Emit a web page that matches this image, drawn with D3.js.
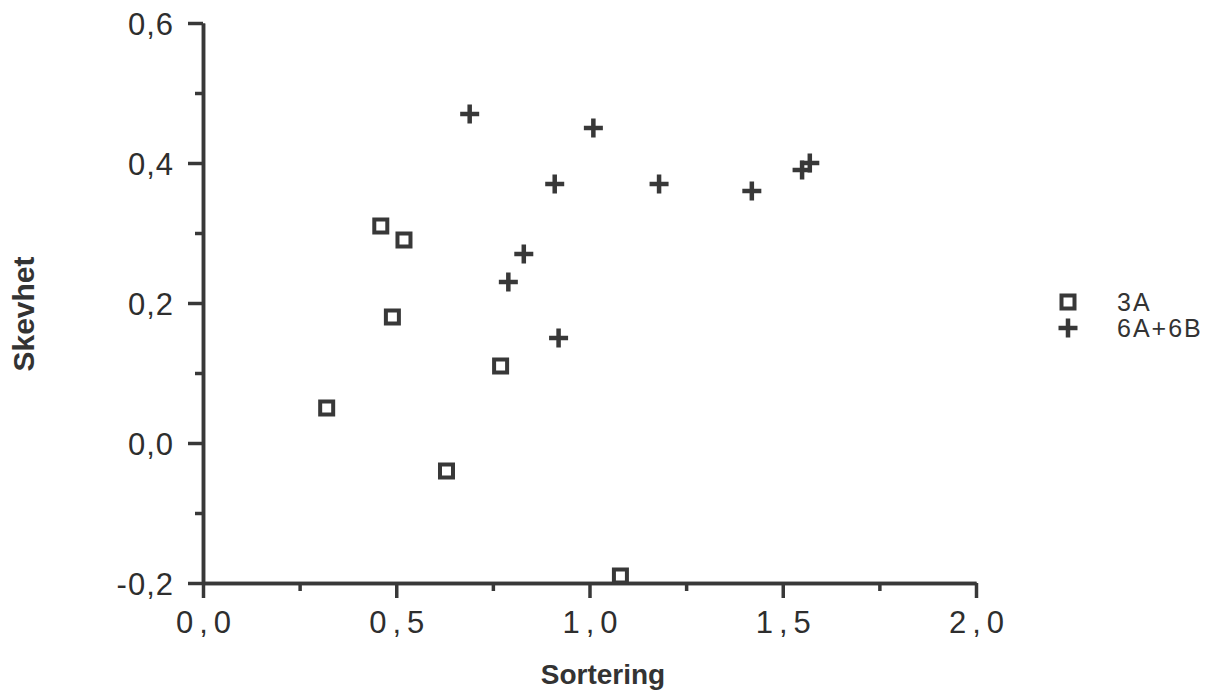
<!DOCTYPE html>
<html>
<head>
<meta charset="utf-8">
<script src="https://cdn.jsdelivr.net/npm/d3@7"></script>
<style>
  body { margin: 0; background: #fff; }
  text { font-family: "Liberation Sans", Arial, sans-serif; fill: #333; }
</style>
</head>
<body>
<div id="chart"></div>
<script>
// data
const series3A_x = [0.46, 0.52, 0.49, 0.32, 0.63, 0.77, 1.08]
const series3A_y = [0.31, 0.29, 0.18, 0.05, -0.04, 0.11, -0.19]
const series6_x = [0.69, 1.01, 0.91, 1.18, 1.42, 1.55, 1.57, 0.83, 0.79, 0.92]
const series6_y = [0.47, 0.45, 0.37, 0.37, 0.36, 0.39, 0.40, 0.27, 0.23, 0.15]
const xTicks = [0, 0.5, 1.0, 1.5, 2.0]
const xMinor = [0.25, 0.75, 1.25, 1.75]
const yTicks = [-0.2, 0, 0.2, 0.4, 0.6]
const yMinor = [-0.1, 0.1, 0.3, 0.5]
const legendNames = ['3A', '6A+6B']

const W = 1230, H = 693
const margin = { top: 23, right: 254, bottom: 110, left: 203 }
const width = W - margin.left - margin.right
const height = H - margin.top - margin.bottom
const ink = '#383838'

const svg = d3.select('#chart').append('svg')
  .attr('width', W).attr('height', H)
const g = svg.append('g')
  .attr('transform', 'translate(' + margin.left + ',' + margin.top + ')')

const x = d3.scaleLinear().domain([0, 2]).range([0, width])
const y = d3.scaleLinear().domain([-0.2, 0.6]).range([height, 0])
// comma decimals, plain hyphen for minus
const fmt = d => d3.format('.1f')(d).replace('.', ',').replace('\u2212', '-')

// minor ticks first
g.append('g')
  .attr('transform', 'translate(0,' + height + ')')
  .call(d3.axisBottom(x).tickValues(xMinor).tickSize(8).tickSizeOuter(0).tickFormat(''))
g.append('g')
  .call(d3.axisLeft(y).tickValues(yMinor).tickSize(8).tickSizeOuter(0).tickFormat(''))

const xAxis = g.append('g')
  .attr('transform', 'translate(0,' + height + ')')
  .call(d3.axisBottom(x).tickValues(xTicks).tickSize(15).tickSizeOuter(0).tickPadding(13).tickFormat(fmt))
xAxis.selectAll('text')
  .style('font-size', '31px')
  .style('letter-spacing', '6px')
  .attr('dx', '3px')

const yAxis = g.append('g')
  .call(d3.axisLeft(y).tickValues(yTicks).tickSize(15).tickSizeOuter(0).tickPadding(14).tickFormat(fmt))
yAxis.selectAll('text')
  .style('font-size', '31px')
  .style('letter-spacing', '1px')
  .attr('dy', '0.38em')

g.selectAll('.domain, .tick line')
  .attr('stroke', ink)
  .attr('stroke-width', 3.5)
g.selectAll('.tick text').style('fill', '#2e2e2e').style('font-family', '"Liberation Sans", Arial, sans-serif')

// axis titles
svg.append('text')
  .attr('x', 603)
  .attr('y', 684)
  .attr('text-anchor', 'middle')
  .style('font-size', '28px')
  .style('font-weight', 'bold')
  .text('Sortering')

svg.append('text')
  .attr('transform', 'translate(34,314) rotate(-90)')
  .attr('text-anchor', 'middle')
  .style('font-size', '30px')
  .style('font-weight', 'bold')
  .text('Skevhet')

// markers
const drawSquare = (sel, cx, cy) => sel.append('rect')
  .attr('x', cx - 6.5).attr('y', cy - 6.5)
  .attr('width', 13).attr('height', 13)
  .attr('fill', 'none').attr('stroke', ink).attr('stroke-width', 4)
const drawPlus = (sel, cx, cy) => sel.append('path')
  .attr('d', 'M' + (cx - 9.5) + ',' + cy + 'H' + (cx + 9.5) + 'M' + cx + ',' + (cy - 9.5) + 'V' + (cy + 9.5))
  .attr('fill', 'none').attr('stroke', ink).attr('stroke-width', 4.5)

const pts = g.append('g')
series3A_x.forEach((v, i) => drawSquare(pts, x(v), y(series3A_y[i])))
series6_x.forEach((v, i) => drawPlus(pts, x(v), y(series6_y[i])))

// legend
const leg = svg.append('g')
drawSquare(leg, 1068, 302)
drawPlus(leg, 1068, 328)
leg.selectAll('text')
  .data(legendNames)
  .enter()
  .append('text')
  .attr('x', 1117)
  .attr('y', (d, i) => 311 + i * 26)
  .style('font-size', '25px')
  .style('letter-spacing', '2px')
  .text(d => d)
</script>
</body>
</html>
